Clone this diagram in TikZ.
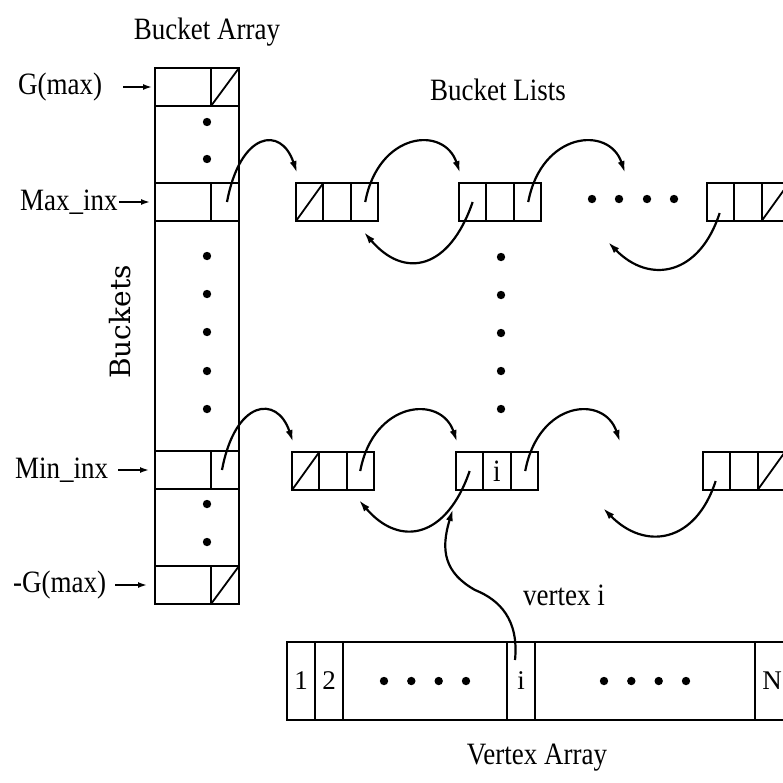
\documentclass[tikz,border=0pt]{standalone}
\usepackage{fontspec}
\setmainfont{Liberation Serif}
\newfontfamily\bucketfont{DejaVu Serif}
\usetikzlibrary{arrows.meta, positioning}

\tikzset{
  bcell/.style={draw, line width=1.8pt, inner sep=0pt, outer sep=0pt, minimum height=38pt},
  lcell/.style={draw, line width=1.8pt, inner sep=0pt, outer sep=0pt, minimum width=27.3pt, minimum height=38pt},
  vcell/.style={draw, line width=1.8pt, inner sep=0pt, outer sep=0pt, minimum height=78pt, font=\fontsize{27pt}{30pt}\selectfont},
  lab/.style={inner sep=0pt, yscale=1.15, font=\fontsize{27pt}{30pt}\selectfont},
  link/.style={->, line width=2.2pt},
  ptr/.style={-{Latex[length=9pt, width=6pt]}, line width=1.6pt},
  slash/.style={line width=1.8pt},
}

\begin{document}
\begin{tikzpicture}[x=1pt, y=-1pt, >={Latex[length=12pt, width=7pt]}]
    \useasboundingbox (0,0) rectangle (783,782);
    \clip (0,0) rectangle (783,782);

    % bucket array
    \node[bcell, minimum width=84pt, minimum height=536pt, anchor=north west] (bcol) at (155,68) {};
    \node[bcell, minimum width=56pt, anchor=north west] (gmaxL) at (155,68) {};
    \node[bcell, minimum width=28pt, right=0pt of gmaxL] (gmaxR) {};
    \node[bcell, minimum width=56pt, anchor=north west] (bmaxL) at (155,183) {};
    \node[bcell, minimum width=28pt, right=0pt of bmaxL] (bmaxR) {};
    \node[bcell, minimum width=56pt, anchor=north west] (bminL) at (155,451) {};
    \node[bcell, minimum width=28pt, right=0pt of bminL] (bminR) {};
    \node[bcell, minimum width=56pt, anchor=north west] (gminL) at (155,566) {};
    \node[bcell, minimum width=28pt, right=0pt of gminL] (gminR) {};
    \draw[slash] (gmaxR.south west) -- (gmaxR.north east);
    \draw[slash] (gminR.south west) -- (gminR.north east);
    \foreach \y in {122,159,256,294,332,371,409,504,542}
        \fill (207,\y) circle (4.2);

    \node[lab] (tarr) at (207,32) {Bucket Array};
    \node[font=\bucketfont\fontsize{28pt}{30pt}\selectfont, inner sep=0pt, rotate=90] (tbk) at (120,322) {Buckets};

    \node[lab, anchor=west] (lgmax) at (18,87) {G(max)};
    \node[lab, anchor=west] (lmax) at (20,202) {Max\_inx};
    \node[lab, anchor=west] (lmin) at (15,470) {Min\_inx};
    \node[lab, anchor=west] (lgmin) at (13,585) {-G(max)};
    \draw[ptr] ([xshift=21pt]lgmax.east) -- ([xshift=-3pt]gmaxL.west);
    \draw[ptr] ([xshift=1pt]lmax.east) -- ([xshift=-5pt]bmaxL.west);
    \draw[ptr] ([xshift=10pt]lmin.east) -- ([xshift=-6pt]bminL.west);
    \draw[ptr] ([xshift=9pt]lgmin.east) -- ([xshift=-8pt]gminL.west);

    % bucket lists
    \node[lab] (tlists) at (498,90) {Bucket Lists};
    \foreach \nm/\x/\y in {t1/296/183, t2/459/183, t3/707/183, b1/292/452, b2/456/452, b3/703/452} {
        \node[lcell, anchor=north west] (\nm-a) at (\x,\y) {};
        \node[lcell, right=0pt of \nm-a] (\nm-b) {};
        \node[lcell, right=0pt of \nm-b] (\nm-c) {};
    }
    \node[lab] (bi) at (b2-b) {i};
    \draw[slash] (t1-a.south west) -- (t1-a.north east);
    \draw[slash] (b1-a.south west) -- (b1-a.north east);
    \draw[slash] (t3-c.south west) -- (t3-c.north east);
    \draw[slash] (b3-c.south west) -- (b3-c.north east);
    \foreach \x in {592,619,647,674}
        \fill (\x,199) circle (4.2);
    \foreach \y in {257,295,333,371,409}
        \fill (501,\y) circle (4.2);

    \coordinate (t2out) at (625,173);
    \coordinate (t3back) at (608,242);
    \coordinate (b2out) at (620,442);
    \coordinate (b3back) at (603,508);

    % forward and backward pointers
    \draw[link] ([xshift=2pt]bmaxR.center) .. controls +(13,-70) and +(-16,-48) .. ([shift={(1,-10)}]t1-a.north west);
    \draw[link] ([xshift=1pt]t1-c.center) .. controls +(13,-70) and +(-16,-48) .. ([shift={(1,-10)}]t2-a.north west);
    \draw[link] ([xshift=1pt]t2-c.center) .. controls +(13,-70) and +(-16,-48) .. (t2out);
    \draw[link] (t2-a.center) .. controls +(-23,67) and +(41,48) .. ([shift={(-14,11)}]t1-c.south east);
    \draw[link] ([shift={(-1,11)}]t3-a.center) .. controls +(-20,62) and +(42,43) .. (t3back);

    \draw[link] ([xshift=-3pt]bminR.center) .. controls +(13,-70) and +(-16,-48) .. ([shift={(1,-10)}]b1-a.north west);
    \draw[link] (b1-c.center) .. controls +(13,-70) and +(-16,-48) .. ([shift={(1,-10)}]b2-a.north west);
    \draw[link] ([xshift=1pt]b2-c.center) .. controls +(13,-70) and +(-16,-48) .. (b2out);
    \draw[link] (b2-a.center) .. controls +(-23,67) and +(41,48) .. ([shift={(-15,10)}]b1-c.south east);
    \draw[link] ([shift={(-1,10)}]b3-a.center) .. controls +(-20,62) and +(42,43) .. (b3back);

    % vertex array
    \node[vcell, minimum width=28pt, anchor=north west] (v1) at (287,642) {1};
    \node[vcell, minimum width=28pt, right=0pt of v1] (v2) {2};
    \node[vcell, minimum width=164pt, right=0pt of v2] (vd1) {};
    \node[vcell, minimum width=28pt, right=0pt of vd1] (vi) {i};
    \node[vcell, minimum width=220pt, right=0pt of vi] (vd2) {};
    \node[vcell, minimum width=34pt, right=0pt of vd2] (vN) {N};
    \foreach \d in {-41,-13.7,13.7,41} {
        \fill ([xshift=\d pt]vd1.center) circle (4.2);
        \fill ([xshift=\d pt]vd2.center) circle (4.2);
    }
    \node[lab, anchor=west] (tvi) at (523,595) {vertex i};
    \node[lab] (tvarr) at (537,758) {Vertex Array};
    \draw[link] ([shift={(-6,18)}]vi.north) .. controls +(4,-40) and +(25,10) .. (475,590)
        .. controls +(-30,-17) and +(-13,42) .. ([shift={(-3,19)}]b2-a.south west);
\end{tikzpicture}
\end{document}
